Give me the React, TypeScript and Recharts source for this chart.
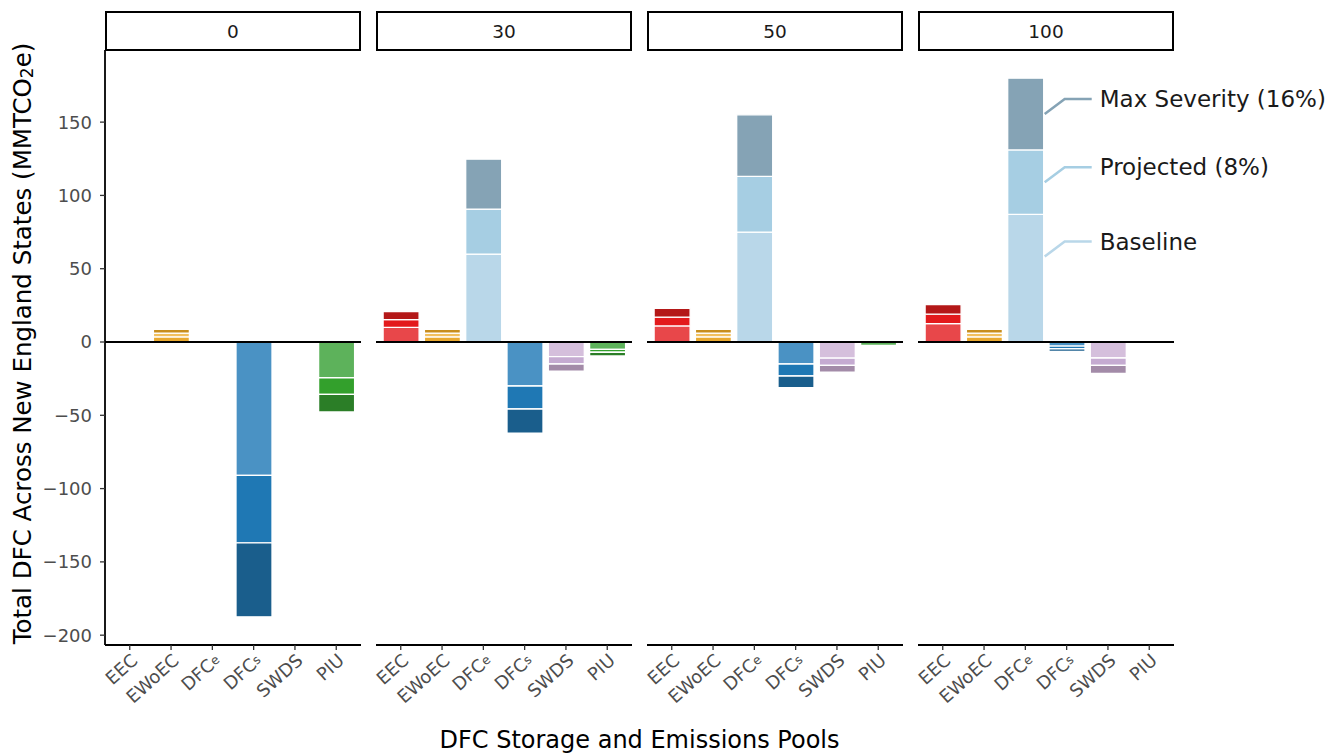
import React from 'react';
import { Bar, BarChart, Cell, LabelList, ReferenceLine, XAxis, YAxis } from 'recharts';

const categories = ['EEC', 'EWoEC', 'DFCe', 'DFCs', 'SWDS', 'PIU'];
const facets = ['0', '30', '50', '100'];
const yTicks = [-200, -150, -100, -50, 0, 50, 100, 150];

// values per facet, in category order
const baseline0 = [0, 3.5, 0, -91, 0, -24.4];
const projected0 = [0, 2.6, 0, -46, 0, -11.3];
const maxSeverity0 = [0, 2.5, 0, -50.5, 0, -12];

const baseline30 = [10, 3.5, 60, -30, -10, -5];
const projected30 = [5.3, 2.6, 30.7, -15.7, -5, -2];
const maxSeverity30 = [5.4, 2.5, 34, -16.4, -4.8, -2.5];

const baseline50 = [11, 3.5, 75, -15, -11, -2.3];
const projected50 = [6, 2.6, 38, -8.2, -5, 0];
const maxSeverity50 = [6, 2.5, 42, -8, -4.5, 0];

const baseline100 = [12.5, 3.5, 87, -2.8, -10.9, 0];
const projected100 = [6.5, 2.6, 44, -1.8, -5, 0];
const maxSeverity100 = [6.5, 2.5, 49, -1.8, -5.5, 0];

const baselines = [baseline0, baseline30, baseline50, baseline100];
const projecteds = [projected0, projected30, projected50, projected100];
const maxSeverities = [maxSeverity0, maxSeverity30, maxSeverity50, maxSeverity100];

const baselineColors = ['#E8474A', '#E9A92F', '#B9D7E9', '#4A92C4', '#D5BFDC', '#5DB25B'];
const projectedColors = ['#E31A1C', '#F2C05E', '#A6CEE3', '#1F78B4', '#C5ABD1', '#33A02C'];
const maxColors = ['#B41818', '#C88E1E', '#85A3B5', '#1A5E8C', '#A38BA8', '#2B7E27'];

const FONT = '"DejaVu Sans", "Liberation Sans", Arial, sans-serif';
const PANEL_LEFT = 105;
const PANEL_STEP = 271;
const PANEL_W = 256;
const PLOT_TOP = 50;
const CHART_H = 755;
const X_AXIS_H = 110;
const Y_DOMAIN = [-206.7, 199.2];
const TICK_FONT = 18;

const fmtY = (v: number) => (v < 0 ? `\u2212${-v}` : `${v}`);

function CategoryTick({ x, y, payload }: any) {
  const label: string = payload.value;
  const sub = label.startsWith('DFC') ? label.slice(3) : null;
  return (
    <g transform={`translate(${x},${y})`}>
      <text transform="rotate(-42)" textAnchor="end" dy="0.75em" fill="#4D4D4D" fontSize={TICK_FONT} fontFamily={FONT}>
        {sub ? (
          <>
            DFC
            <tspan fontSize={12.5} dy={-1.5}>
              {sub}
            </tspan>
          </>
        ) : (
          label
        )}
      </text>
    </g>
  );
}

function renderYTitle(props: any) {
  const vb = props.viewBox || {};
  const cx = 22;
  const cy = vb.y + vb.height / 2 - 4;
  return (
    <text
      x={cx}
      y={cy}
      transform={`rotate(-90, ${cx}, ${cy})`}
      textAnchor="middle"
      dominantBaseline="central"
      fontSize={24.5}
      fontFamily={FONT}
      fill="#000"
    >
      Total DFC Across New England States (MMTCO
      <tspan fontSize={17} dy={5}>
        2
      </tspan>
      <tspan dy={-5}>e)</tspan>
    </text>
  );
}

function makeAnnotation(text: string, color: string, frac: number) {
  return (props: any) => {
    if (props.index !== 2) return null;
    const x = Number(props.x);
    const y = Number(props.y);
    const w = Number(props.width);
    const h = Number(props.height);
    const x0 = x + w + 1;
    const y0 = y + h * frac;
    const y1 = y0 - 15;
    return (
      <g>
        <polyline
          points={`${x0},${y0} ${x0 + 20},${y1} ${x0 + 47},${y1}`}
          fill="none"
          stroke={color}
          strokeWidth={2.5}
        />
        <text x={x0 + 55} y={y1} dominantBaseline="central" fontSize={23} fontFamily={FONT} fill="#1A1A1A">
          {text}
        </text>
      </g>
    );
  };
}

function Panel({ fi }: { fi: number }) {
  const data = categories.map((category, i) => ({
    category,
    baseline: baselines[fi][i],
    projected: projecteds[fi][i],
    maxSeverity: maxSeverities[fi][i],
  }));
  const first = fi === 0;
  const last = fi === facets.length - 1;
  const left = first ? 0 : PANEL_LEFT + fi * PANEL_STEP;
  const yAxisW = first ? PANEL_LEFT : 0;
  const rightExtra = last ? 1336 - (PANEL_LEFT + fi * PANEL_STEP + PANEL_W) : 0;
  const width = yAxisW + PANEL_W + rightExtra;
  const pad = 4.1;

  return (
    <div style={{ position: 'absolute', left, top: 0 }}>
      <BarChart
        width={width}
        height={CHART_H}
        data={data}
        margin={{ top: PLOT_TOP, right: rightExtra, bottom: 0, left: 0 }}
        barCategoryGap={0}
      >
        <XAxis
          dataKey="category"
          type="category"
          interval={0}
          height={X_AXIS_H}
          padding={{ left: pad, right: pad }}
          tick={<CategoryTick />}
          tickSize={5}
          tickMargin={2}
          tickLine={{ stroke: '#333', strokeWidth: 1.3 }}
          axisLine={{ stroke: '#000', strokeWidth: 1.8 }}
        />
        {first ? (
          <YAxis
            type="number"
            width={yAxisW}
            domain={Y_DOMAIN}
            allowDataOverflow
            ticks={yTicks}
            interval={0}
            tickFormatter={fmtY}
            tickSize={5}
            tickMargin={8}
            tick={{ fill: '#4D4D4D', fontSize: TICK_FONT, fontFamily: FONT }}
            tickLine={{ stroke: '#333', strokeWidth: 1.3 }}
            axisLine={{ stroke: '#000', strokeWidth: 1.8 }}
            label={renderYTitle}
          />
        ) : (
          <YAxis hide type="number" domain={Y_DOMAIN} allowDataOverflow ticks={yTicks} />
        )}
        <Bar dataKey="baseline" stackId="s" barSize={36} stroke="#fff" strokeWidth={1.3} isAnimationActive={false}>
          {data.map((d, i) => (
            <Cell key={d.category} fill={baselineColors[i]} />
          ))}
          {last && <LabelList content={makeAnnotation('Baseline', '#B9D7E9', 0.33)} />}
        </Bar>
        <Bar dataKey="projected" stackId="s" barSize={36} stroke="#fff" strokeWidth={1.3} isAnimationActive={false}>
          {data.map((d, i) => (
            <Cell key={d.category} fill={projectedColors[i]} />
          ))}
          {last && <LabelList content={makeAnnotation('Projected (8%)', '#A6CEE3', 0.5)} />}
        </Bar>
        <Bar dataKey="maxSeverity" stackId="s" barSize={36} stroke="#fff" strokeWidth={1.3} isAnimationActive={false}>
          {data.map((d, i) => (
            <Cell key={d.category} fill={maxColors[i]} />
          ))}
          {last && <LabelList content={makeAnnotation('Max Severity (16%)', '#85A3B5', 0.5)} />}
        </Bar>
        <ReferenceLine y={0} stroke="#000" strokeWidth={1.8} />
      </BarChart>
    </div>
  );
}

export default function App() {
  return (
    <div
      style={{
        position: 'absolute',
        left: 0,
        top: 0,
        width: 1336,
        height: 755,
        background: '#fff',
        fontFamily: FONT,
        overflow: 'hidden',
      }}
    >
      <style>{'.recharts-surface { overflow: visible; }'}</style>
      {facets.map((f, fi) => (
        <div
          key={`strip-${f}`}
          style={{
            position: 'absolute',
            left: PANEL_LEFT + fi * PANEL_STEP,
            top: 11,
            width: PANEL_W,
            height: PLOT_TOP - 11 + 1,
            boxSizing: 'border-box',
            border: '2px solid #000',
            display: 'flex',
            alignItems: 'center',
            justifyContent: 'center',
            fontSize: 18.5,
            color: '#1A1A1A',
          }}
        >
          {f}
        </div>
      ))}
      {facets.map((f, fi) => (
        <Panel key={f} fi={fi} />
      ))}
      <div
        style={{
          position: 'absolute',
          left: PANEL_LEFT,
          width: PANEL_W * 4 + (PANEL_STEP - PANEL_W) * 3,
          top: 724,
          lineHeight: '32px',
          textAlign: 'center',
          fontSize: 24,
          color: '#000',
        }}
      >
        DFC Storage and Emissions Pools
      </div>
    </div>
  );
}
